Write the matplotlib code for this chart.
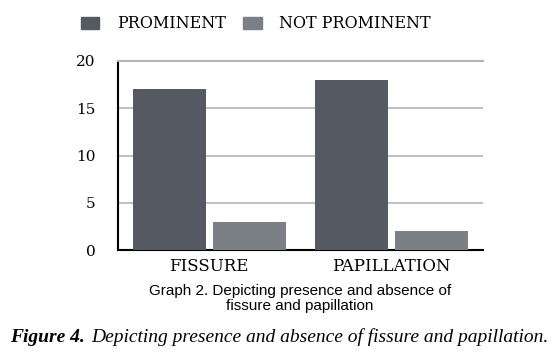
import matplotlib
matplotlib.use("Agg")
import matplotlib.pyplot as plt
import numpy as np
from matplotlib.patches import Patch

categories = ["FISSURE", "PAPILLATION"]
series_names = ["PROMINENT", "NOT PROMINENT"]
prominent = [17, 18]
not_prominent = [3, 2]
yticks = [0, 5, 10, 15, 20]

c_dark = "#555961"
c_light = "#7b7f86"
serif = "DejaVu Serif"

fig = plt.figure(figsize=(5.57, 3.58), dpi=100)
ax = fig.add_axes([118/557, 1-250/358, 365/557, 189/358])

x = np.arange(len(categories))
w = 0.40
ax.bar(x - 0.218, prominent, width=w, color=c_dark, zorder=3)
ax.bar(x + 0.218, not_prominent, width=w, color=c_light, zorder=3)

ax.set_xlim(-0.5, 1.5)
ax.set_ylim(0, 20)
ax.set_yticks(yticks)
ax.set_yticklabels([str(t) for t in yticks], fontfamily=serif, fontsize=11)
ax.set_xticks(x)
ax.set_xticklabels(categories, fontfamily=serif, fontsize=12)
ax.tick_params(axis="y", length=0, pad=16)
ax.tick_params(axis="x", length=0, pad=6)
ax.yaxis.grid(True, color="#b5b5b5", linewidth=1.2, zorder=0)
ax.spines["right"].set_visible(False)
ax.spines["top"].set_color("#b5b5b5")
ax.spines["top"].set_linewidth(1.5)
for s in ["left", "bottom"]:
    ax.spines[s].set_linewidth(1.5)
    ax.spines[s].set_color("black")

handles = [Patch(color=c_dark), Patch(color=c_light)]
fig.legend(handles, series_names, loc="center", bbox_to_anchor=(256/557, 1-24/358),
           ncol=2, frameon=False, prop={"family": serif, "size": 11.5},
           handlelength=1.15, handleheight=0.8, columnspacing=1.1, handletextpad=1.1)

fig.text(300/557, 1-298.5/358, "Graph 2. Depicting presence and absence of\nfissure and papillation",
         ha="center", va="center", fontfamily="Liberation Sans", fontsize=11, linespacing=1.1)

t1 = fig.text(10/557, 1-337/358, "Figure 4.", fontfamily="Liberation Serif", fontsize=14,
              fontweight="bold", fontstyle="italic", va="center", ha="left")
fig.canvas.draw()
bb = t1.get_window_extent()
fig.text((bb.x1 + 6)/557, 1-337/358, "Depicting presence and absence of fissure and papillation.",
         fontfamily="Liberation Serif", fontsize=14, fontstyle="italic", va="center", ha="left")

fig.savefig("out.png", dpi=100)
